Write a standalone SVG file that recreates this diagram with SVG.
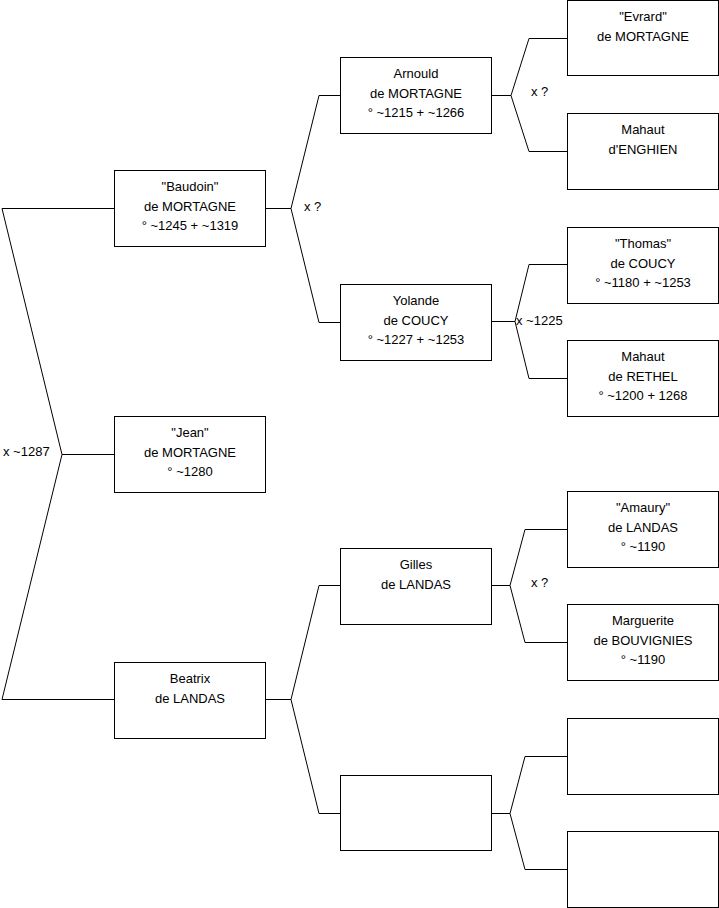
<svg xmlns="http://www.w3.org/2000/svg" width="719" height="908" viewBox="0 0 719 908">
<style>
.box{fill:#fff;stroke:#000;stroke-width:1}
.t{font-family:"Liberation Sans",Arial,sans-serif;font-size:13px;fill:#000;text-anchor:middle}
.l{font-family:"Liberation Sans",Arial,sans-serif;font-size:13px;fill:#000}
.c{fill:none;stroke:#000;stroke-width:1}
</style>
<rect width="719" height="908" fill="#fff"/>
<g id="connectors">
<polyline class="c" points="114,208.5 2,208.5 62,454.5 2,699.5 114,699.5"/>
<line class="c" x1="62" y1="454.5" x2="114" y2="454.5"/>
<polyline class="c" points="340,95.5 319,95.5 291,208.5 319,322.5 340,322.5"/>
<line class="c" x1="265" y1="208.5" x2="291" y2="208.5"/>
<polyline class="c" points="340,585.5 319,585.5 291,699.5 319,813.5 340,813.5"/>
<line class="c" x1="265" y1="699.5" x2="291" y2="699.5"/>
<polyline class="c" points="567,38.5 529,38.5 511,95.5 529,151.5 567,151.5"/>
<line class="c" x1="492" y1="95.5" x2="511" y2="95.5"/>
<polyline class="c" points="567,264.5 529,264.5 515,321.5 529,378.5 567,378.5"/>
<line class="c" x1="492" y1="321.5" x2="515" y2="321.5"/>
<polyline class="c" points="567,529.5 525,529.5 510,585.5 525,642.5 567,642.5"/>
<line class="c" x1="492" y1="585.5" x2="510" y2="585.5"/>
<polyline class="c" points="567,756.5 525,756.5 510,813.5 525,869.5 567,869.5"/>
<line class="c" x1="492" y1="813.5" x2="510" y2="813.5"/>
</g>
<g id="labels">
<text class="l" x="3" y="456">x ~1287</text>
<text class="l" x="304" y="211">x ?</text>
<text class="l" x="531" y="96">x ?</text>
<text class="l" x="516" y="325">x ~1225</text>
<text class="l" x="531" y="587">x ?</text>
</g>
<g id="baudoin"><rect class="box" x="114.5" y="170.5" width="151" height="76"/>
<text class="t" x="190" y="191">"Baudoin"</text><text class="t" x="190" y="211">de MORTAGNE</text><text class="t" x="190" y="230">° ~1245 + ~1319</text></g>
<g id="jean"><rect class="box" x="114.5" y="416.5" width="151" height="76"/>
<text class="t" x="190" y="437">"Jean"</text><text class="t" x="190" y="457">de MORTAGNE</text><text class="t" x="190" y="476">° ~1280</text></g>
<g id="beatrix"><rect class="box" x="114.5" y="662.5" width="151" height="76"/>
<text class="t" x="190" y="683">Beatrix</text><text class="t" x="190" y="703">de LANDAS</text></g>
<g id="arnould"><rect class="box" x="340.5" y="57.5" width="151" height="76"/>
<text class="t" x="416" y="78">Arnould</text><text class="t" x="416" y="98">de MORTAGNE</text><text class="t" x="416" y="117">° ~1215 + ~1266</text></g>
<g id="yolande"><rect class="box" x="340.5" y="284.5" width="151" height="76"/>
<text class="t" x="416" y="305">Yolande</text><text class="t" x="416" y="325">de COUCY</text><text class="t" x="416" y="344">° ~1227 + ~1253</text></g>
<g id="gilles"><rect class="box" x="340.5" y="548.5" width="151" height="76"/>
<text class="t" x="416" y="569">Gilles</text><text class="t" x="416" y="589">de LANDAS</text></g>
<g id="empty2"><rect class="box" x="340.5" y="775.5" width="151" height="75"/></g>
<g id="evrard"><rect class="box" x="567.5" y="0.5" width="151" height="75"/>
<text class="t" x="643" y="21">"Evrard"</text><text class="t" x="643" y="41">de MORTAGNE</text></g>
<g id="mahaut-enghien"><rect class="box" x="567.5" y="113.5" width="151" height="76"/>
<text class="t" x="643" y="134">Mahaut</text><text class="t" x="643" y="154">d'ENGHIEN</text></g>
<g id="thomas"><rect class="box" x="567.5" y="227.5" width="151" height="76"/>
<text class="t" x="643" y="248">"Thomas"</text><text class="t" x="643" y="268">de COUCY</text><text class="t" x="643" y="287">° ~1180 + ~1253</text></g>
<g id="mahaut-rethel"><rect class="box" x="567.5" y="340.5" width="151" height="76"/>
<text class="t" x="643" y="361">Mahaut</text><text class="t" x="643" y="381">de RETHEL</text><text class="t" x="643" y="400">° ~1200 + 1268</text></g>
<g id="amaury"><rect class="box" x="567.5" y="491.5" width="151" height="76"/>
<text class="t" x="643" y="512">"Amaury"</text><text class="t" x="643" y="532">de LANDAS</text><text class="t" x="643" y="551">° ~1190</text></g>
<g id="marguerite"><rect class="box" x="567.5" y="604.5" width="151" height="76"/>
<text class="t" x="643" y="625">Marguerite</text><text class="t" x="643" y="645">de BOUVIGNIES</text><text class="t" x="643" y="664">° ~1190</text></g>
<g id="empty3a"><rect class="box" x="567.5" y="718.5" width="151" height="76"/></g>
<g id="empty3b"><rect class="box" x="567.5" y="831.5" width="151" height="76"/></g>
</svg>
